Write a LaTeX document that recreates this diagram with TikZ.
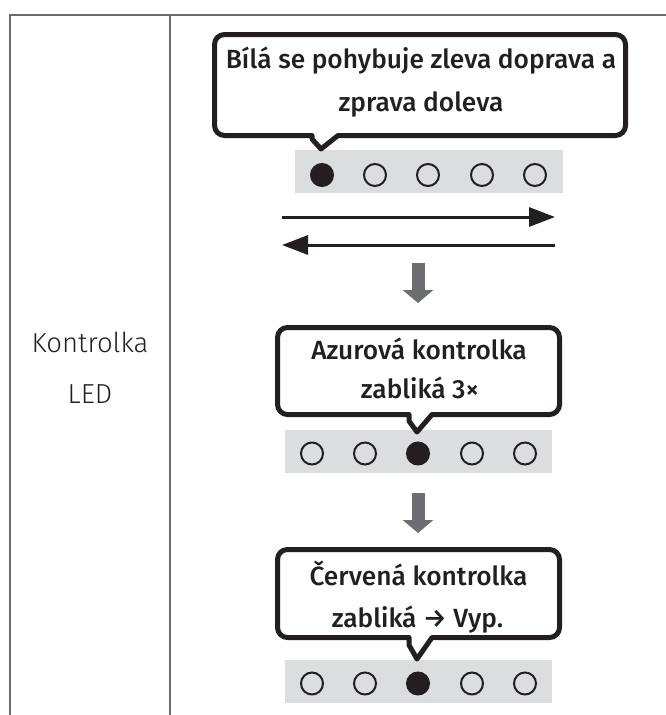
\documentclass[tikz,border=0pt]{standalone}
\usepackage{fontspec}
\setmainfont{Fira Sans}
\newfontfamily\lightfont{Fira Sans Light}
\newfontfamily\medfont{Fira Sans Medium}
\usetikzlibrary{arrows.meta}
\definecolor{rulec}{HTML}{6B6B6B}
\definecolor{ink}{HTML}{231F20}
\definecolor{stripc}{HTML}{DCDDDE}
\definecolor{garrow}{HTML}{6D6E71}
\tikzset{
  tablerule/.style={draw=rulec, line width=1.5pt},
  bubble/.style={draw=ink, line width=5pt, fill=white, line join=round},
  btext/.style={anchor=base, inner sep=0pt, text=ink, font=\medfont\fontsize{26.3}{30}\selectfont},
  ltext/.style={anchor=base, inner sep=0pt, text=ink, font=\lightfont\fontsize{27.5}{32}\selectfont},
  strip/.style={fill=stripc, draw=none},
  ledoff/.style={circle, draw=ink, line width=2pt, fill=none, minimum size=22pt, inner sep=0pt},
  ledon/.style={circle, draw=ink, line width=2pt, fill=ink, minimum size=22pt, inner sep=0pt},
  blackarrow/.style={draw=ink, line width=3pt, -{Triangle[length=26pt,width=19pt]}},
  grayarrow/.style={draw=garrow, line width=13pt, -{Triangle[length=13pt,width=30pt]}},
}
\begin{document}
\begin{tikzpicture}[x=1pt,y=-1pt]
\useasboundingbox (0,0) rectangle (666,715);
% table
\draw[tablerule] (10,715) -- (10,15) -- (666,15);
\draw[tablerule] (170,15) -- (170,715);
\node[ltext] (k1) at (90,352) {Kontrolka};
\node[ltext] (k2) at (90,403) {LED};

% strip 1
\fill[strip] (295,150) rectangle (563,193);
\foreach \i/\x in {1/322,2/375,3/428,4/482,5/535}{
  \ifnum\i=1 \node[ledon] (a\i) at (\x,175) {};
  \else \node[ledoff] (a\i) at (\x,175) {}; \fi
}
% bubble 1
\draw[bubble] (312,135.5) [rounded corners=10pt] -- (214.5,135.5) -- (214.5,34.5) -- (625.5,34.5) -- (625.5,135.5) [sharp corners] -- (338,135.5) -- (321,149) -- (312,139) -- cycle;
\node[btext] (b1a) at (421,68) {Bílá se pohybuje zleva doprava a};
\node[btext] (b1b) at (421,111) {zprava doleva};

% black arrows
\coordinate (r1) at (282,217); \coordinate (r2) at (555,217);
\coordinate (l1) at (555,245); \coordinate (l2) at (282,245);
\draw[blackarrow] (r1) -- (r2);
\draw[blackarrow] (l1) -- (l2);

% gray arrow 1
\coordinate (g1s) at (418,263); \coordinate (g1e) at (418,303);
\draw[grayarrow] (g1s) -- (g1e);

% strip 2
\fill[strip] (285,430) rectangle (552,473);
\foreach \i/\x in {1/312,2/365,3/418,4/472,5/525}{
  \ifnum\i=3 \node[ledon] (b\i) at (\x,453.5) {};
  \else \node[ledoff] (b\i) at (\x,453.5) {}; \fi
}
% bubble 2
\draw[bubble] (409,414.5) [rounded corners=10pt] -- (277.5,414.5) -- (277.5,327.5) -- (559.5,327.5) -- (559.5,414.5) [sharp corners] -- (432,414.5) -- (417,432) -- (409,421) -- cycle;
\node[btext] (b2a) at (419,359) {Azurová kontrolka};
\node[btext] (b2b) at (420,398) {zabliká 3×};

% gray arrow 2
\coordinate (g2s) at (418,493); \coordinate (g2e) at (418,533);
\draw[grayarrow] (g2s) -- (g2e);

% strip 3
\fill[strip] (285,660) rectangle (552,703);
\foreach \i/\x in {1/312,2/365,3/418,4/472,5/525}{
  \ifnum\i=3 \node[ledon] (c\i) at (\x,683.5) {};
  \else \node[ledoff] (c\i) at (\x,683.5) {}; \fi
}
% bubble 3
\draw[bubble] (409,637.5) [rounded corners=10pt] -- (277.5,637.5) -- (277.5,549.5) -- (559.5,549.5) -- (559.5,637.5) [sharp corners] -- (432,637.5) -- (417,659) -- (409,645) -- cycle;
\node[btext] (b3a) at (418.5,585) {Červená kontrolka};
\node[btext] (b3b) at (417.5,627) {zabliká → Vyp.};
\end{tikzpicture}
\end{document}
